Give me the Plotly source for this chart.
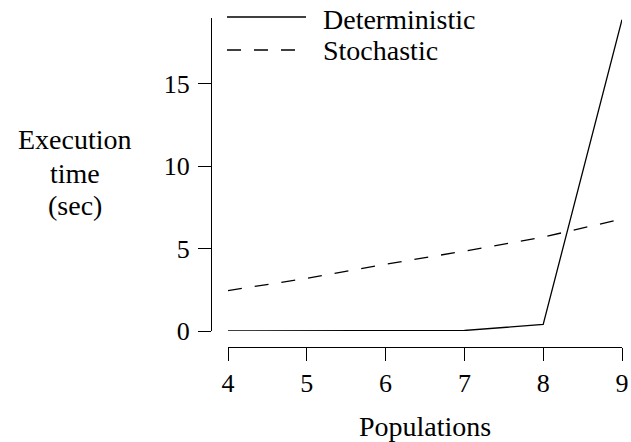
import plotly.graph_objects as go

populations = [4, 5, 6, 7, 8, 9]
deterministic = [0.0, 0.0, 0.0, 0.03, 0.4, 18.9]
stochastic = [2.45, 3.2, 4.05, 4.85, 5.7, 6.8]
y_ticks = [0, 5, 10, 15]
x_ticks = [4, 5, 6, 7, 8, 9]
series_names = ["Deterministic", "Stochastic"]
y_title_lines = ["Execution", "time", "(sec)"]
x_title = "Populations"

W, H = 631, 442
ML, MR, MT, MB = 0, 9, 18, 95
PW = W - ML - MR
PH = H - MT - MB

def px(x):
    return (x - ML) / PW

def py(y):
    return (H - MB - y) / PH

FONT = "Liberation Serif, serif"
FS = 28
TFS = 26
LW = 1.3
DASH = "14px,13px"

fig = go.Figure()
fig.add_trace(go.Scatter(x=populations, y=deterministic, mode="lines",
                         line=dict(color="black", width=LW), name=series_names[0],
                         showlegend=False))
fig.add_trace(go.Scatter(x=populations, y=stochastic, mode="lines",
                         line=dict(color="black", width=LW, dash=DASH), name=series_names[1],
                         showlegend=False))

axis_common = dict(showgrid=False, zeroline=False, showline=True, linecolor="black",
                   linewidth=LW, ticks="outside", ticklen=13, tickwidth=LW,
                   tickcolor="black", automargin=False, ticklabeloverflow="allow",
                   tickfont=dict(family=FONT, size=TFS, color="black"))

fig.update_layout(
    width=W, height=H,
    margin=dict(l=ML, r=MR, t=MT, b=MB, autoexpand=False),
    paper_bgcolor="white", plot_bgcolor="white",
    xaxis=dict(domain=[px(228), 1], range=[4, 9], anchor="free", position=0,
               tickvals=x_ticks, **axis_common),
    yaxis=dict(domain=[py(331), 1], range=[0, 19], anchor="free", position=px(211),
               tickvals=y_ticks, ticklabelstandoff=3, **axis_common),
    font=dict(family=FONT, size=FS, color="black"),
)

# axis titles
fig.add_annotation(text=x_title, xref="paper", yref="paper", x=(px(228) + 1) / 2, y=0,
                   yshift=-(426 - 347), showarrow=False, xanchor="center", yanchor="middle",
                   font=dict(family=FONT, size=FS, color="black"))
for line, yc in zip(y_title_lines, [139, 173, 205]):
    fig.add_annotation(text=line, xref="paper", yref="paper", x=px(75), y=py(yc),
                       showarrow=False, xanchor="center", yanchor="middle",
                       font=dict(family=FONT, size=FS, color="black"))

# legend
legend_rows = [(17, 20, "solid"), (50, 51, DASH)]
for (yl, yt, dash), name in zip(legend_rows, series_names):
    fig.add_shape(type="line", xref="paper", yref="paper", x0=px(227), x1=px(306),
                  y0=py(yl), y1=py(yl), line=dict(color="black", width=LW, dash=dash))
    fig.add_annotation(text=name, xref="paper", yref="paper", x=px(321), y=py(yt),
                       showarrow=False, xanchor="left", yanchor="middle",
                       font=dict(family=FONT, size=FS, color="black"))

fig.write_html("out.html", config={"displayModeBar": False},
               post_script="document.body.style.margin='0';document.body.style.overflow='hidden';")
